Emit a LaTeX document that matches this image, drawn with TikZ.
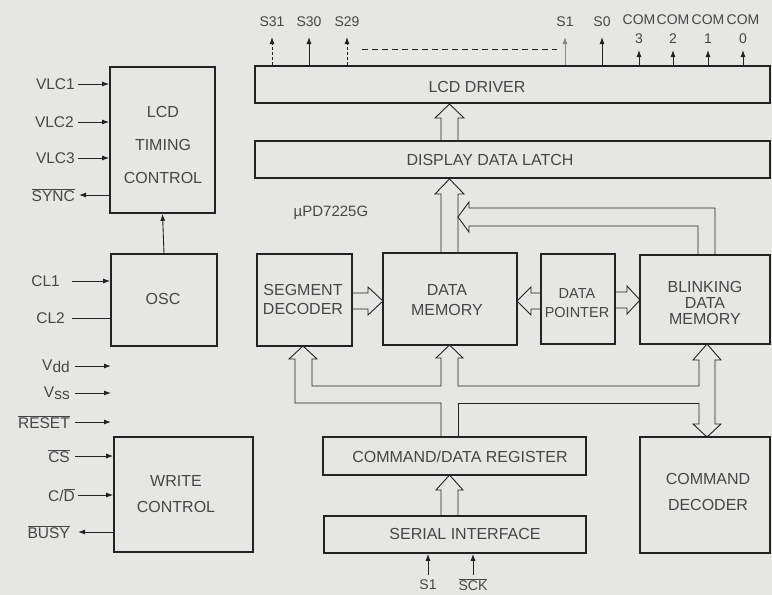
\documentclass[tikz,border=0pt]{standalone}
\usepackage{fontspec}
\setmainfont{Liberation Sans}
\usetikzlibrary{arrows.meta}
\definecolor{bg}{RGB}{230,230,228}
\definecolor{ink}{RGB}{35,35,35}
\definecolor{txt}{RGB}{70,70,70}
\newcommand{\ovl}[1]{$\overline{\mbox{#1}}$}
\begin{document}
\begin{tikzpicture}[x=1pt,y=-1pt,
  box/.style={draw=ink,line width=1.6pt,inner sep=0pt},
  btxt/.style={text=txt,align=center,inner sep=0pt,font=\fontsize{16}{19}\selectfont},
  lab/.style={text=txt,inner sep=0pt,font=\fontsize{15.5}{18}\selectfont},
  toplab/.style={text=txt,inner sep=0pt,align=center,font=\fontsize{14}{19}\selectfont},
  pin/.style={draw=ink,line width=0.9pt,-{Latex[length=7pt,width=5pt]}},
  plain/.style={draw=ink,line width=0.9pt},
  bus/.style={draw=ink,line width=0.9pt,line join=miter}]
\fill[bg] (0,0) rectangle (772,595);
\useasboundingbox (0,0) rectangle (772,595);

% ---------- boxes ----------
\node[box,minimum width=105pt,minimum height=146pt] (ltc) at (162.5,140) {};
\node[box,minimum width=106pt,minimum height=92pt] (osc) at (164,300) {};
\node[box,minimum width=139pt,minimum height=115pt] (wc) at (183.5,494.5) {};
\node[box,minimum width=515pt,minimum height=37pt] (drv) at (512.5,84.5) {};
\node[box,minimum width=515pt,minimum height=37pt] (latch) at (512.5,159.5) {};
\node[box,minimum width=95pt,minimum height=92pt] (seg) at (304.5,300) {};
\node[box,minimum width=134pt,minimum height=92pt] (dm) at (450,299) {};
\node[box,minimum width=74pt,minimum height=90pt] (dp) at (578,299) {};
\node[box,minimum width=130pt,minimum height=89pt] (bdm) at (705,299.5) {};
\node[box,minimum width=263pt,minimum height=38pt] (cdr) at (454.5,456) {};
\node[box,minimum width=262pt,minimum height=37pt] (ser) at (455,534.5) {};
\node[box,minimum width=130pt,minimum height=116pt] (cmd) at (705,495) {};

% ---------- box texts ----------
\node[btxt,font=\fontsize{16}{33}\selectfont] (ltcT) at (163,145) {LCD\\TIMING\\CONTROL};
\node[btxt] (oscT) at (163,299) {OSC};
\node[btxt,font=\fontsize{16}{26}\selectfont] (wcT) at (176,494) {WRITE\\CONTROL};
\node[btxt] (drvT) at (477,87) {LCD DRIVER};
\node[btxt] (latchT) at (490,160) {DISPLAY DATA LATCH};
\node[btxt] (segT) at (303,299) {SEGMENT\\DECODER};
\node[btxt,font=\fontsize{16}{20}\selectfont] (dmT) at (447,300) {DATA\\MEMORY};
\node[btxt,font=\fontsize{14.5}{19}\selectfont] (dpT) at (577,303) {DATA\\POINTER};
\node[btxt,font=\fontsize{16}{16}\selectfont] (bdmT) at (705,303) {BLINKING\\DATA\\MEMORY};
\node[btxt] (cdrT) at (460,457) {COMMAND/DATA REGISTER};
\node[btxt] (serT) at (465,534) {SERIAL INTERFACE};
\node[btxt,font=\fontsize{16}{26}\selectfont] (cmdT) at (708,492) {COMMAND\\DECODER};
\node[lab,font=\fontsize{15}{18}\selectfont] (chip) at (331,213) {µPD7225G};

% ---------- left pins ----------
\node[lab,anchor=east] (vlc1) at (75,84) {VLC1};
\node[lab,anchor=east] (vlc2) at (74,122) {VLC2};
\node[lab,anchor=east] (vlc3) at (75,158) {VLC3};
\node[lab,anchor=east] (sync) at (75,195) {\ovl{SYNC}};
\draw[pin] ([xshift=3pt]vlc1.east) -- (vlc1.east -| ltc.west);
\draw[pin] ([xshift=4pt]vlc2.east) -- (vlc2.east -| ltc.west);
\draw[pin] ([xshift=3pt]vlc3.east) -- (vlc3.east -| ltc.west);
\draw[pin] (sync.east -| ltc.west) -- ([xshift=4pt]sync.east);

\node[lab,anchor=east] (cl1) at (60,281) {CL1};
\node[lab,anchor=east] (cl2) at (65,318) {CL2};
\draw[pin] ([xshift=12pt]cl1.east) -- (cl1.east -| osc.west);
\draw[plain] ([xshift=7pt]cl2.east) -- (cl2.east -| osc.west);
\draw[pin] (osc.north) -- (ltc.south);

\node[lab,anchor=east] (vdd) at (70,366) {V\raisebox{-2.5pt}{dd}};
\node[lab,anchor=east] (vss) at (70,393) {V\raisebox{-2.5pt}{ss}};
\node[lab,anchor=east] (rst) at (70,422) {\ovl{RESET}};
\draw[pin] ([xshift=5pt]vdd.east) -- ++(36,0);
\draw[pin] ([xshift=5pt]vss.east) -- ++(36,0);
\draw[pin] ([xshift=5pt]rst.east) -- ++(36,0);

\node[lab,anchor=east] (cs) at (70,456) {\ovl{CS}};
\node[lab,anchor=east] (cd) at (75,495) {C/\ovl{D}};
\node[lab,anchor=east] (busy) at (70,532) {\ovl{BUSY}};
\draw[pin] ([xshift=5pt]cs.east) -- (cs.east -| wc.west);
\draw[pin] ([xshift=3pt]cd.east) -- (cd.east -| wc.west);
\draw[pin] (busy.east -| wc.west) -- ([xshift=8pt]busy.east);

% ---------- top pins ----------
\coordinate (sTip) at (0,37);
\coordinate (cTip) at (0,50);
\node[toplab] (s31) at (272,22) {S31};
\node[toplab] (s30) at (309,22) {S30};
\node[toplab] (s29) at (347,22) {S29};
\node[toplab] (s1) at (565,22) {S1};
\node[toplab] (s0) at (602,22) {S0};
\node[toplab] (com3) at (639,29) {COM\\3};
\node[toplab] (com2) at (673,29) {COM\\2};
\node[toplab] (com1) at (708,29) {COM\\1};
\node[toplab] (com0) at (743,29) {COM\\0};
\draw[pin,dashed,dash pattern=on 3pt off 2pt] (s31 |- drv.north) -- (s31 |- sTip);
\draw[pin] (s30 |- drv.north) -- (s30 |- sTip);
\draw[pin,dashed,dash pattern=on 3pt off 2pt] (s29 |- drv.north) -- (s29 |- sTip);
\draw[pin,draw=ink!55] (s1 |- drv.north) -- (s1 |- sTip);
\draw[pin] (s0 |- drv.north) -- (s0 |- sTip);
\draw[pin] (com3 |- drv.north) -- (com3 |- cTip);
\draw[pin] (com2 |- drv.north) -- (com2 |- cTip);
\draw[pin] (com1 |- drv.north) -- (com1 |- cTip);
\draw[pin] (com0 |- drv.north) -- (com0 |- cTip);
\coordinate (dashA) at (362,49);
\coordinate (dashB) at (557,49);
\draw[plain,dashed,dash pattern=on 6pt off 4pt] (dashA) -- (dashB);

% ---------- bottom pins ----------
\coordinate (bEnd) at (0,575);
\node[lab,font=\fontsize{14}{17}\selectfont] (si) at (428,585) {S1};
\node[lab,font=\fontsize{14}{17}\selectfont] (sck) at (473,585) {\ovl{SCK}};
\draw[pin] (si |- bEnd) -- (si |- ser.south);
\draw[pin] (sck |- bEnd) -- (sck |- ser.south);

% ---------- bus arrows ----------
% latch -> driver
\draw[bus] (441,141) -- (441,118) -- (435,118) -- (449.5,104) -- (464,118) -- (458,118) -- (458,141);
% data memory -> latch
\draw[bus] (441,253) -- (441,194) -- (435,194) -- (449.5,179) -- (464,194) -- (458,194) -- (458,253);
% blinking memory -> latch bus
\draw[bus] (698,255) -- (698,226) -- (469,226) -- (469,232) -- (458,217) -- (469,202) -- (469,208) -- (715,208) -- (715,255);
% segment decoder -> data memory
\draw[bus] (352,293) -- (368,293) -- (368,287) -- (383,301) -- (368,315) -- (368,309) -- (352,309);
% data pointer -> data memory
\draw[bus] (541,293) -- (531,293) -- (531,287) -- (517,301) -- (531,315) -- (531,309) -- (541,309);
% data pointer -> blinking memory
\draw[bus] (615,292) -- (627,292) -- (627,286) -- (640,300) -- (627,314) -- (627,308) -- (615,308);
% serial -> register
\draw[bus] (441,516) -- (441,490) -- (436,490) -- (449.5,475) -- (463,490) -- (458,490) -- (458,516);
% blinking <-> command decoder
\draw[bus] (699,386) -- (699,360) -- (693,360) -- (707,344) -- (721,360) -- (715,360) -- (715,424) -- (721,424) -- (707,437) -- (693,424) -- (699,424) -- (699,403);
% register bus to data memory, segment decoder, right branch
\draw[bus] (699,386) -- (458,386) -- (458,358) -- (463,358) -- (449.5,345) -- (436,358) -- (441,358) -- (441,386) -- (312,386) -- (312,359) -- (317,359) -- (303,346) -- (289,359) -- (295,359) -- (295,403) -- (441,403) -- (441,437);
\draw[bus] (699,403) -- (458,403) -- (458,437);
\end{tikzpicture}
\end{document}
